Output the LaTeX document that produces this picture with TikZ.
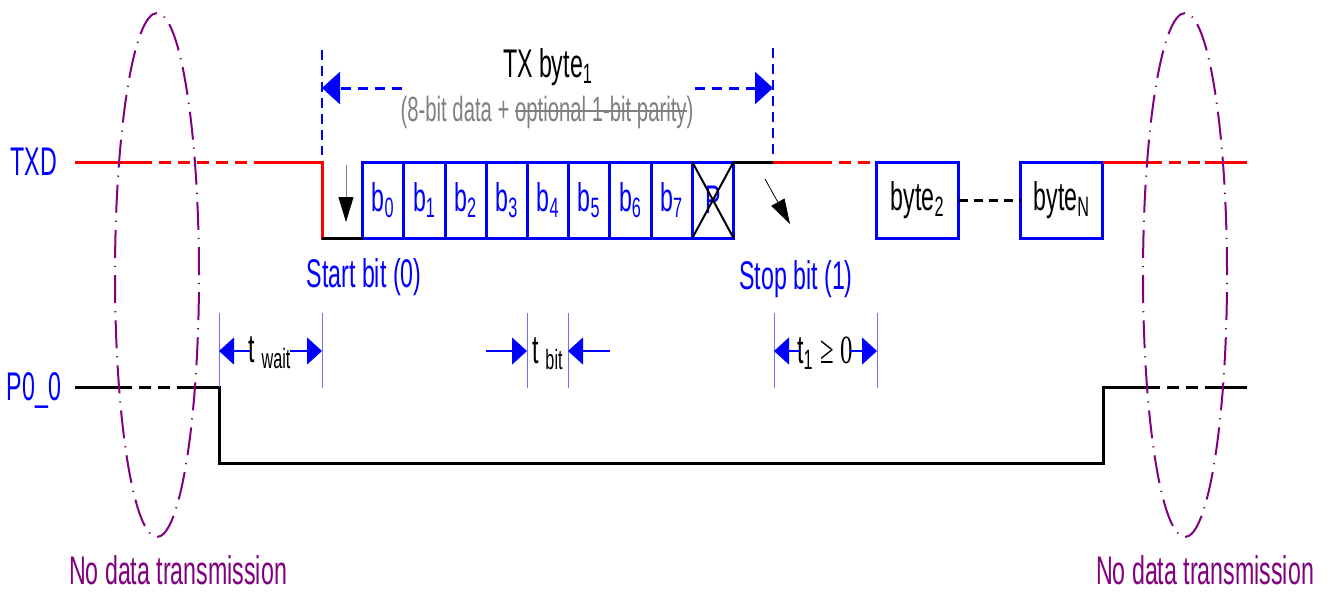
\documentclass[tikz,border=0pt]{standalone}
\usepackage{fontspec}
\setmainfont{Liberation Sans}[FakeStretch=0.58]
\newfontfamily\serifn{Liberation Serif}[FakeStretch=0.62]
\newsavebox\strkbox
\newcommand\mystrike[1]{\sbox\strkbox{#1}\rlap{\usebox\strkbox}\rule[0.27em]{\wd\strkbox}{0.8pt}}
\usetikzlibrary{arrows.meta}
\definecolor{myblue}{RGB}{0,0,255}
\definecolor{myred}{RGB}{255,0,0}
\definecolor{mypurple}{RGB}{128,0,128}
\definecolor{mygray}{RGB}{128,128,128}
\definecolor{dimblue}{RGB}{110,110,255}
\begin{document}
\begin{tikzpicture}[x=0.5pt,y=-0.5pt,
  lbl/.style={font=\fontsize{20}{24}\selectfont, inner sep=0pt, anchor=base},
  bitbox/.style={draw=myblue, line width=1.5pt, minimum width=20.6pt, minimum height=38pt, inner sep=0pt, outer sep=0pt, text=myblue, font=\fontsize{20}{24}\selectfont},
  widebox/.style={bitbox, minimum width=41.15pt, text=black},
  sig/.style={line width=1.5pt, line cap=butt},
  brk/.style={sig, dash pattern=on 6pt off 3.5pt},
  ell/.style={draw=mypurple, line width=1pt, dash pattern=on 14pt off 4pt on 0.6pt off 4pt},
  vdash/.style={draw=myblue, line width=1pt, dash pattern=on 5pt off 3pt},
  bigtip/.style={-{Triangle[length=9pt,width=16pt]}},
  dimtip/.style={draw=myblue, line width=0.6pt, -{Triangle[length=7.5pt,width=13.5pt]}},
  ext/.style={draw=dimblue, line width=0.5pt},
  smalltip/.style={-{Triangle[length=12.5pt,width=7.5pt,color=black,fill=black]}},
]
\useasboundingbox (0,0) rectangle (1331,591);

% ---------- labels ----------
\node[lbl, text=myblue] (txd) at (34,175) {TXD};
\node[lbl, text=myblue] (p00) at (34,400) {P0\_0};

% ---------- bit boxes ----------
\node[bitbox] (b0) at (383.3,200) {b\textsubscript{0}};
\node[bitbox] (b1) at (424.5,200) {b\textsubscript{1}};
\node[bitbox] (b2) at (465.7,200) {b\textsubscript{2}};
\node[bitbox] (b3) at (506.9,200) {b\textsubscript{3}};
\node[bitbox] (b4) at (548.1,200) {b\textsubscript{4}};
\node[bitbox] (b5) at (589.3,200) {b\textsubscript{5}};
\node[bitbox] (b6) at (630.5,200) {b\textsubscript{6}};
\node[bitbox] (b7) at (671.7,200) {b\textsubscript{7}};
\node[bitbox] (par) at (712.9,200) {P};
\draw[line width=1pt] (par.north west) -- (par.south east);
\draw[line width=1pt] (par.north east) -- (par.south west);
\node[widebox] (byte2) at (917.8,200) {byte\textsubscript{2}};
\node[widebox] (byteN) at (1061.8,200) {byte\textsubscript{N}};

% ---------- TXD waveform ----------
\coordinate (t0) at (75,162);
\coordinate (t1) at (140,162);
\coordinate (t2) at (260,162);
\coordinate (t3) at (322,162);
\coordinate (t4) at (322,238);
\coordinate (t5) at (773,162);
\coordinate (t6) at (820,162);
\coordinate (t7) at (1150,162);
\coordinate (t8) at (1205,162);
\coordinate (t9) at (1247,162);
\draw[sig, myred] (t0) -- (t1);
\draw[brk, myred] (t1) -- (t2);
\draw[sig, myred, line cap=rect] (t2) -- (t3) -- (t4);
\draw[sig, black] (t4) -- (b0.south west);
\draw[sig, black] (par.north east) -- (t5);
\draw[sig, myred] (t5) -- (t6);
\draw[brk, myred] (t6) -- (byte2.north west);
\draw[brk, black, dash pattern=on 4.5pt off 3pt] (byte2.east) -- (byteN.west);
\draw[sig, myred] (byteN.north east) -- (t7);
\draw[brk, myred] (t7) -- (t8);
\draw[sig, myred] (t8) -- (t9);

% ---------- P0_0 waveform ----------
\coordinate (p0) at (75,387);
\coordinate (p1) at (120,387);
\coordinate (p2) at (178,387);
\coordinate (p3) at (219,387);
\coordinate (p4) at (219,463);
\coordinate (p5) at (1103,463);
\coordinate (p6) at (1103,387);
\coordinate (p7) at (1148,387);
\coordinate (p8) at (1205,387);
\coordinate (p9) at (1247,387);
\draw[sig] (p0) -- (p1);
\draw[brk] (p1) -- (p2);
\draw[sig, line join=miter] (p2) -- (p3) -- (p4) -- (p5) -- (p6) -- (p7);
\draw[brk] (p7) -- (p8);
\draw[sig] (p8) -- (p9);

% ---------- ellipses ----------
\draw[ell] (157,275) ellipse [x radius=21pt, y radius=131pt];
\draw[ell] (1185,275) ellipse [x radius=21pt, y radius=131pt];
\node[lbl, text=mypurple, anchor=base] (nd1) at (178,584) {No data transmission};
\node[lbl, text=mypurple, anchor=base] (nd2) at (1205,584) {No data transmission};

% ---------- TX byte dimension ----------
\coordinate (u1) at (322,50);
\coordinate (u2) at (322,155);
\coordinate (u3) at (773,48);
\coordinate (u4) at (773,155);
\draw[vdash] (u1) -- (u2);
\draw[vdash] (u3) -- (u4);
\coordinate (aL) at (322,88);
\coordinate (aR) at (773,88);
\coordinate (aLs) at (402,88);
\coordinate (aRs) at (695,88);
\draw[myblue, line width=1.5pt, dash pattern=on 5pt off 3.5pt, bigtip] (aLs) -- (aL);
\draw[myblue, line width=1.5pt, dash pattern=on 5pt off 3.5pt, bigtip] (aRs) -- (aR);
\node[lbl] (txb) at (548,77) {TX byte\textsubscript{1}};
\node[lbl, text=mygray, font=\fontsize{17.5}{21}\selectfont] (sub) at (547,121) {(8-bit data + \mystrike{optional 1-bit parity})};

% ---------- start / stop bits ----------
\coordinate (sa1) at (346,165);
\coordinate (sa2) at (346,222);
\draw[mygray, line width=0.5pt, smalltip] (sa1) -- (sa2);
\coordinate (so1) at (765,179);
\coordinate (so2) at (790,224);
\draw[black, line width=0.4pt, smalltip] (so1) -- (so2);
\node[lbl, text=myblue] (start) at (364,287) {Start bit (0)};
\node[lbl, text=myblue] (stop) at (796,289) {Stop bit (1)};

% ---------- t_wait ----------
\coordinate (w1) at (219,313);
\coordinate (w2) at (322,313);
\coordinate (w3) at (322,388);
\draw[ext] (w1) -- (p3);
\draw[ext] (w2) -- (w3);
\node[lbl] (twait) at (270,362) {t\,\textsubscript{wait}};
\coordinate (wa1) at (250,351);
\coordinate (wa2) at (219,351);
\coordinate (wa3) at (290,351);
\coordinate (wa4) at (322,351);
\draw[dimtip] (wa1) -- (wa2);
\draw[dimtip] (wa3) -- (wa4);

% ---------- t_bit ----------
\coordinate (k1) at (527,313);
\coordinate (k2) at (527,388);
\coordinate (k3) at (568,313);
\coordinate (k4) at (568,388);
\draw[ext] (k1) -- (k2);
\draw[ext] (k3) -- (k4);
\node[lbl] (tbit) at (548,363) {t\,\textsubscript{bit}};
\coordinate (ka1) at (486,351);
\coordinate (ka2) at (527,351);
\coordinate (ka3) at (610,351);
\coordinate (ka4) at (568,351);
\draw[dimtip] (ka1) -- (ka2);
\draw[dimtip] (ka3) -- (ka4);

% ---------- t_1 ----------
\coordinate (m1) at (774,313);
\coordinate (m2) at (774,388);
\coordinate (m3) at (877,313);
\coordinate (m4) at (877,388);
\draw[ext] (m1) -- (m2);
\draw[ext] (m3) -- (m4);
\node[lbl] (tone) at (825,363) {t\textsubscript{1}\,{\serifn ≥\,0}};
\coordinate (ma1) at (800,351);
\coordinate (ma2) at (774,351);
\coordinate (ma3) at (850,351);
\coordinate (ma4) at (877,351);
\draw[dimtip] (ma1) -- (ma2);
\draw[dimtip] (ma3) -- (ma4);
\end{tikzpicture}
\end{document}
